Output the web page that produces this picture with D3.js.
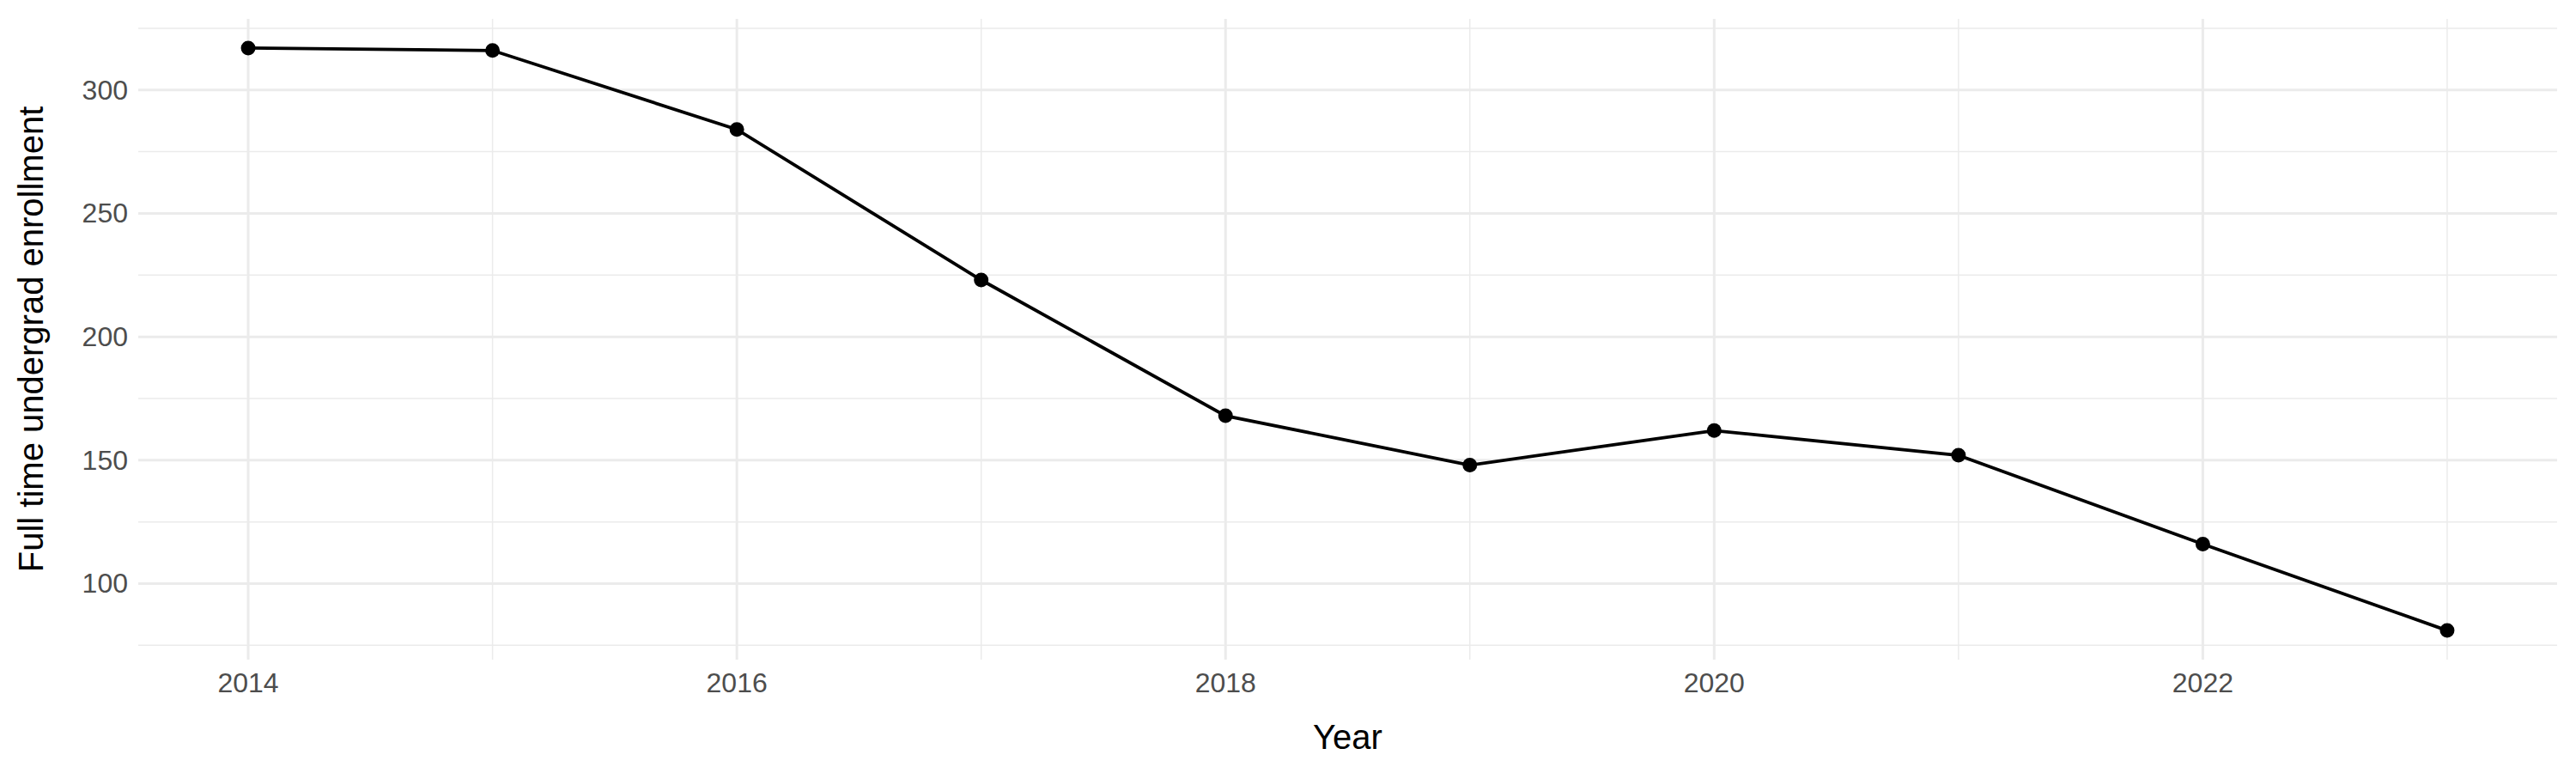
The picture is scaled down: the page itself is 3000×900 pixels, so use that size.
<!DOCTYPE html>
<html><head><meta charset="utf-8">
<script src="https://cdn.jsdelivr.net/npm/d3@7"></script>
<style>body{margin:0;background:#fff}svg{display:block;font-family:"Liberation Sans",Arial,sans-serif}</style>
</head><body><svg id="c" width="3000" height="900"></svg>
<script>
const years = [2014,2015,2016,2017,2018,2019,2020,2021,2022,2023];
const enrollment = [317,316,284,223,168,148,162,152,116,81];
const xTicks = [2014,2016,2018,2020,2022];
const xMinor = [2015,2017,2019,2021,2023];
const yTicks = [100,150,200,250,300];
const yMinor = [75,125,175,225,275,325];

const svg = d3.select("#c");
const L=161,R=2978,T=22,B=768;
const x = d3.scaleLinear().domain([2013.55,2023.45]).range([L,R]);
const y = d3.scaleLinear().domain([69.2,328.8]).range([B,T]);

svg.selectAll(".ym").data(yMinor).join("line").attr("x1",L).attr("x2",R)
  .attr("y1",d=>y(d)).attr("y2",d=>y(d)).attr("stroke","#ebebeb").attr("stroke-width",1.5);
svg.selectAll(".xm").data(xMinor).join("line").attr("y1",T).attr("y2",B)
  .attr("x1",d=>x(d)).attr("x2",d=>x(d)).attr("stroke","#ebebeb").attr("stroke-width",1.5);
svg.selectAll(".yM").data(yTicks).join("line").attr("x1",L).attr("x2",R)
  .attr("y1",d=>y(d)).attr("y2",d=>y(d)).attr("stroke","#ebebeb").attr("stroke-width",3);
svg.selectAll(".xM").data(xTicks).join("line").attr("y1",T).attr("y2",B)
  .attr("x1",d=>x(d)).attr("x2",d=>x(d)).attr("stroke","#ebebeb").attr("stroke-width",3);

svg.selectAll(".yt").data(yTicks).join("text").attr("x",L-12).attr("y",d=>y(d))
  .attr("text-anchor","end").attr("dominant-baseline","central")
  .attr("font-size",32).attr("fill","#4d4d4d").text(d=>d);
svg.selectAll(".xt").data(xTicks).join("text").attr("x",d=>x(d)).attr("y",B+38)
  .attr("text-anchor","middle").attr("font-size",32).attr("fill","#4d4d4d").text(d=>d);

const data = years.map((d,i)=>({year:d,v:enrollment[i]}));
svg.append("path").datum(data).attr("fill","none").attr("stroke","#000").attr("stroke-width",3.8)
  .attr("d",d3.line().x(d=>x(d.year)).y(d=>y(d.v)));
svg.selectAll(".pt").data(data).join("circle").attr("cx",d=>x(d.year)).attr("cy",d=>y(d.v))
  .attr("r",8.5).attr("fill","#000");

svg.append("text").attr("x",(L+R)/2).attr("y",872).attr("text-anchor","middle")
  .attr("font-size",40).attr("fill","#000").text("Year");
svg.append("text").attr("transform",`translate(50,${(T+B)/2}) rotate(-90)`).attr("text-anchor","middle")
  .attr("font-size",40).attr("fill","#000").text("Full time undergrad enrollment");
</script></body></html>
